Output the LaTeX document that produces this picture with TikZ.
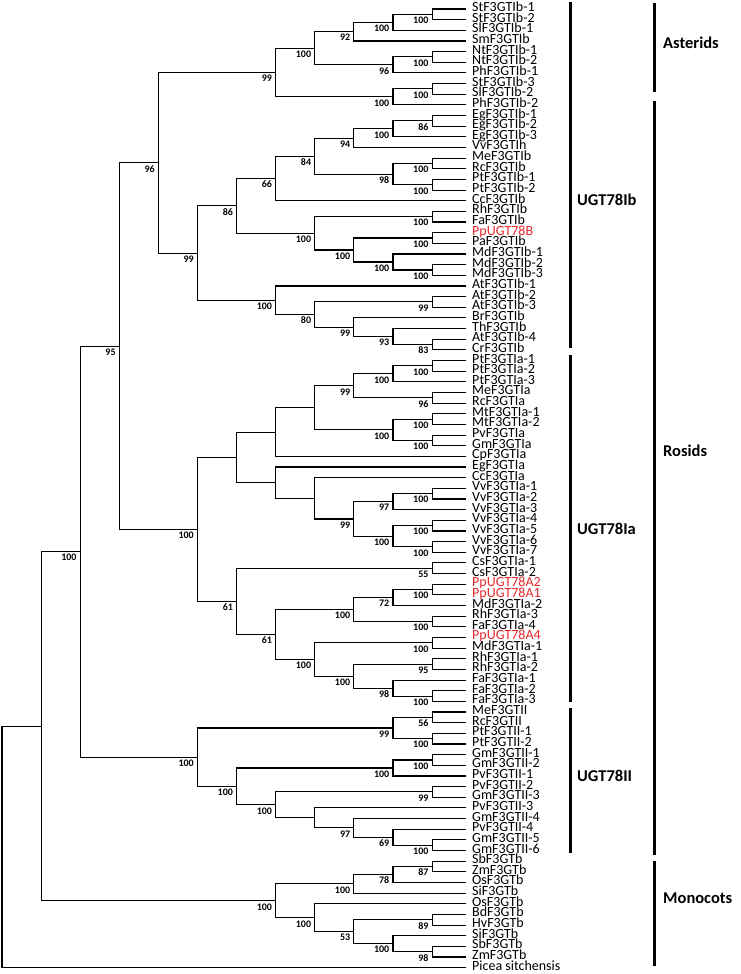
\documentclass[tikz,border=0pt]{standalone}
\usepackage{fontspec}
\setmainfont{Carlito}
\usetikzlibrary{calc}
\definecolor{ppred}{RGB}{232,40,44}
\tikzset{
  br/.style={line width=1.1pt, black},
  leaf/.style={anchor=west, inner xsep=6pt, inner ysep=0pt, font=\fontsize{14}{14}\selectfont, text height=7.5pt, text depth=2.5pt},
  redleaf/.style={leaf, text=ppred},
  bs/.style={anchor=east, inner sep=0pt, font=\fontsize{10}{10}\selectfont\bfseries},
  grp/.style={anchor=west, inner sep=0pt, font=\fontsize{16.5}{16.5}\selectfont\bfseries},
  bar/.style={line width=3pt, black},
}
\newcommand\lf[3][leaf]{\node[#1] (l#2) at (466,{9+(#2-1)*10.652}) {#3};}
\newcommand\cld[5]{%
  \path let \p1=(#3), \p2=(#4) in coordinate (#1) at (#2pt,{0.5*\y1+0.5*\y2});
  \draw[br] (#3) -| (#1) |- (#4);
  \if\relax\detokenize{#5}\relax\else
    \node[bs] (b#1) at ([shift={(-3.5pt,-6pt)}]#1) {#5};
  \fi}
\def\kA{2}\def\kB{41.1}\def\kC{80.2}\def\kD{119.3}\def\kE{158.4}\def\kF{197.5}
\def\kG{236.6}\def\kH{275.7}\def\kI{314.8}\def\kJ{353.9}\def\kK{393}\def\kL{432.1}
\begin{document}
\begin{tikzpicture}[x=1pt,y=-1pt]
\useasboundingbox (0,0) rectangle (740,974);
% leaves
\lf{1}{StF3GTIb-1}
\lf{2}{StF3GTIb-2}
\lf{3}{SlF3GTIb-1}
\lf{4}{SmF3GTIb}
\lf{5}{NtF3GTIb-1}
\lf{6}{NtF3GTIb-2}
\lf{7}{PhF3GTIb-1}
\lf{8}{StF3GTIb-3}
\lf{9}{SlF3GTIb-2}
\lf{10}{PhF3GTIb-2}
\lf{11}{EgF3GTIb-1}
\lf{12}{EgF3GTIb-2}
\lf{13}{EgF3GTIb-3}
\lf{14}{VvF3GTIh}
\lf{15}{MeF3GTIb}
\lf{16}{RcF3GTIb}
\lf{17}{PtF3GTIb-1}
\lf{18}{PtF3GTIb-2}
\lf{19}{CcF3GTIb}
\lf{20}{RhF3GTIb}
\lf{21}{FaF3GTIb}
\lf[redleaf]{22}{PpUGT78B}
\lf{23}{PaF3GTIb}
\lf{24}{MdF3GTIb-1}
\lf{25}{MdF3GTIb-2}
\lf{26}{MdF3GTIb-3}
\lf{27}{AtF3GTIb-1}
\lf{28}{AtF3GTIb-2}
\lf{29}{AtF3GTIb-3}
\lf{30}{BrF3GTIb}
\lf{31}{ThF3GTIb}
\lf{32}{AtF3GTIb-4}
\lf{33}{CrF3GTIb}
\lf{34}{PtF3GTIa-1}
\lf{35}{PtF3GTIa-2}
\lf{36}{PtF3GTIa-3}
\lf{37}{MeF3GTIa}
\lf{38}{RcF3GTIa}
\lf{39}{MtF3GTIa-1}
\lf{40}{MtF3GTIa-2}
\lf{41}{PvF3GTIa}
\lf{42}{GmF3GTIa}
\lf{43}{CpF3GTIa}
\lf{44}{EgF3GTIa}
\lf{45}{CcF3GTIa}
\lf{46}{VvF3GTIa-1}
\lf{47}{VvF3GTIa-2}
\lf{48}{VvF3GTIa-3}
\lf{49}{VvF3GTIa-4}
\lf{50}{VvF3GTIa-5}
\lf{51}{VvF3GTIa-6}
\lf{52}{VvF3GTIa-7}
\lf{53}{CsF3GTIa-1}
\lf{54}{CsF3GTIa-2}
\lf[redleaf]{55}{PpUGT78A2}
\lf[redleaf]{56}{PpUGT78A1}
\lf{57}{MdF3GTIa-2}
\lf{58}{RhF3GTIa-3}
\lf{59}{FaF3GTIa-4}
\lf[redleaf]{60}{PpUGT78A4}
\lf{61}{MdF3GTIa-1}
\lf{62}{RhF3GTIa-1}
\lf{63}{RhF3GTIa-2}
\lf{64}{FaF3GTIa-1}
\lf{65}{FaF3GTIa-2}
\lf{66}{FaF3GTIa-3}
\lf{67}{MeF3GTII}
\lf{68}{RcF3GTII}
\lf{69}{PtF3GTII-1}
\lf{70}{PtF3GTII-2}
\lf{71}{GmF3GTII-1}
\lf{72}{GmF3GTII-2}
\lf{73}{PvF3GTII-1}
\lf{74}{PvF3GTII-2}
\lf{75}{GmF3GTII-3}
\lf{76}{PvF3GTII-3}
\lf{77}{GmF3GTII-4}
\lf{78}{PvF3GTII-4}
\lf{79}{GmF3GTII-5}
\lf{80}{GmF3GTII-6}
\lf{81}{SbF3GTb}
\lf{82}{ZmF3GTb}
\lf{83}{OsF3GTb}
\lf{84}{SiF3GTb}
\lf{85}{OsF3GTb}
\lf{86}{BdF3GTb}
\lf{87}{HvF3GTb}
\lf{88}{SiF3GTb}
\lf{89}{SbF3GTb}
\lf{90}{ZmF3GTb}
\lf{91}{Picea sitchensis}
% Asterids
\cld{A1}{\kL}{l1.west}{l2.west}{100}
\cld{A2}{\kK}{A1}{l3.west}{100}
\cld{A3}{\kJ}{A2}{l4.west}{92}
\cld{A4}{\kL}{l5.west}{l6.west}{100}
\cld{A5}{\kK}{A4}{l7.west}{96}
\cld{A6}{\kI}{A3}{A5}{100}
\cld{A7}{\kL}{l8.west}{l9.west}{100}
\cld{A8}{\kK}{A7}{l10.west}{100}
\cld{A9}{\kH}{A6}{A8}{99}
% UGT78Ib rosids
\cld{B1}{\kL}{l11.west}{l12.west}{86}
\cld{B2}{\kK}{B1}{l13.west}{100}
\cld{B3}{\kJ}{B2}{l14.west}{94}
\cld{B4}{\kL}{l15.west}{l16.west}{100}
\cld{B5}{\kL}{l17.west}{l18.west}{100}
\cld{B6}{\kK}{B4}{B5}{98}
\cld{B7}{\kI}{B3}{B6}{84}
\cld{B8}{\kH}{B7}{l19.west}{66}
\cld{R1}{\kL}{l20.west}{l21.west}{100}
\cld{R2}{\kL}{l22.west}{l23.west}{100}
\cld{R3}{\kL}{l25.west}{l26.west}{100}
\cld{R4}{\kK}{l24.west}{R3}{100}
\cld{R5}{\kJ}{R2}{R4}{100}
\cld{R6}{\kI}{R1}{R5}{100}
\cld{B9}{\kG}{B8}{R6}{86}
\cld{T1}{\kL}{l28.west}{l29.west}{99}
\cld{T2}{\kL}{l32.west}{l33.west}{83}
\cld{T3}{\kK}{l31.west}{T2}{93}
\cld{T4}{\kJ}{l30.west}{T3}{99}
\cld{T5}{\kI}{T1}{T4}{80}
\cld{T6}{\kH}{l27.west}{T5}{100}
\cld{B10}{\kF}{B9}{T6}{99}
\cld{C1}{\kE}{A9}{B10}{96}
% UGT78Ia
\cld{D1}{\kL}{l34.west}{l35.west}{100}
\cld{D2}{\kK}{D1}{l36.west}{100}
\cld{D3}{\kL}{l37.west}{l38.west}{96}
\cld{D4}{\kJ}{D2}{D3}{99}
\cld{D5}{\kL}{l39.west}{l40.west}{100}
\cld{D6}{\kL}{l41.west}{l42.west}{100}
\cld{D7}{\kK}{D5}{D6}{100}
\cld{D8}{\kI}{D4}{D7}{}
\cld{D9}{\kH}{D8}{l43.west}{}
\cld{E1}{\kL}{l46.west}{l47.west}{100}
\cld{E2}{\kK}{E1}{l48.west}{97}
\cld{E3}{\kL}{l49.west}{l50.west}{100}
\cld{E4}{\kL}{l51.west}{l52.west}{100}
\cld{E5}{\kK}{E3}{E4}{100}
\cld{E6}{\kJ}{E2}{E5}{99}
\cld{E7}{\kI}{l45.west}{E6}{}
\cld{E8}{\kH}{l44.west}{E7}{}
\cld{E9}{\kG}{D9}{E8}{}
\cld{F1}{\kL}{l53.west}{l54.west}{55}
\cld{F2}{\kL}{l55.west}{l56.west}{100}
\cld{F3}{\kK}{F2}{l57.west}{72}
\cld{F4}{\kL}{l58.west}{l59.west}{100}
\cld{F5}{\kJ}{F3}{F4}{100}
\cld{F6}{\kL}{l60.west}{l61.west}{100}
\cld{F7}{\kL}{l62.west}{l63.west}{95}
\cld{F8}{\kL}{l65.west}{l66.west}{100}
\cld{F9}{\kK}{l64.west}{F8}{98}
\cld{F10}{\kJ}{F7}{F9}{100}
\cld{F11}{\kI}{F6}{F10}{100}
\cld{F12}{\kH}{F5}{F11}{61}
\cld{F13}{\kG}{F1}{F12}{61}
\cld{G1}{\kF}{E9}{F13}{100}
\cld{C2}{\kD}{C1}{G1}{95}
% UGT78II
\cld{H1}{\kL}{l67.west}{l68.west}{56}
\cld{H2}{\kL}{l69.west}{l70.west}{100}
\cld{H3}{\kK}{H1}{H2}{99}
\cld{H4}{\kL}{l71.west}{l72.west}{100}
\cld{H5}{\kK}{H4}{l73.west}{100}
\cld{H6}{\kL}{l74.west}{l75.west}{99}
\cld{H7}{\kL}{l79.west}{l80.west}{100}
\cld{H8}{\kK}{l78.west}{H7}{69}
\cld{H9}{\kJ}{l77.west}{H8}{97}
\cld{H10}{\kI}{l76.west}{H9}{}
\cld{H11}{\kH}{H6}{H10}{100}
\cld{H12}{\kG}{H5}{H11}{100}
\cld{H13}{\kF}{H3}{H12}{100}
\cld{C3}{\kC}{C2}{H13}{100}
% Monocots
\cld{M1}{\kL}{l81.west}{l82.west}{87}
\cld{M2}{\kK}{M1}{l83.west}{78}
\cld{M3}{\kJ}{M2}{l84.west}{100}
\cld{M4}{\kL}{l86.west}{l87.west}{89}
\cld{M5}{\kL}{l89.west}{l90.west}{98}
\cld{M6}{\kK}{l88.west}{M5}{100}
\cld{M7}{\kJ}{M4}{M6}{53}
\cld{M8}{\kI}{l85.west}{M7}{100}
\cld{M9}{\kH}{M3}{M8}{100}
\cld{C4}{\kB}{C3}{M9}{}
\cld{C5}{\kA}{C4}{l91.west}{}
% group bars and labels
\draw[bar] (570,2) -- (570,348);
\draw[bar] (570,355) -- (570,702);
\draw[bar] (570,708) -- (570,853);
\draw[bar] (654,3) -- (654,92);
\draw[bar] (654,101) -- (654,855);
\draw[bar] (654,861) -- (654,966);
\node[grp] (gIb) at (577,200) {UGT78Ib};
\node[grp] (gIa) at (577,529) {UGT78Ia};
\node[grp] (gII) at (577,776) {UGT78II};
\node[grp] (gAs) at (663,43) {Asterids};
\node[grp] (gRo) at (663,451) {Rosids};
\node[grp] (gMo) at (663,898) {Monocots};
\end{tikzpicture}
\end{document}
